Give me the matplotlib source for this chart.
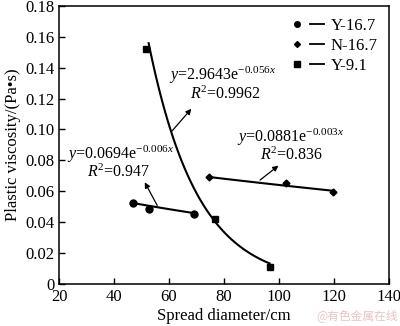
import numpy as np
import matplotlib.pyplot as plt
from matplotlib.lines import Line2D
from matplotlib.legend_handler import HandlerTuple

plt.rcParams['font.family'] = ['Liberation Serif', 'DejaVu Serif']
plt.rcParams['mathtext.fontset'] = 'custom'
plt.rcParams['mathtext.rm'] = 'Liberation Serif'
plt.rcParams['mathtext.it'] = 'Liberation Serif:italic'

# data
y167_x = [46.8, 52.7, 69.0]
y167_y = [0.0525, 0.0483, 0.0455]
n167_x = [74.6, 102.5, 119.5]
n167_y = [0.0690, 0.0656, 0.0592]
y91_x = [51.8, 76.6, 96.6]
y91_y = [0.152, 0.042, 0.011]

# fitted curves y = a*exp(b*x), coefficients from the chart labels
fit_y167 = (0.0694, -0.006)
fit_n167 = (0.0881, -0.003)
fit_y91 = (2.9643, -0.056)

xticks = [20, 40, 60, 80, 100, 120, 140]
yticks = [0, 0.02, 0.04, 0.06, 0.08, 0.10, 0.12, 0.14, 0.16, 0.18]
ytick_labels = ['0', '0.02', '0.04', '0.06', '0.08', '0.10', '0.12', '0.14', '0.16', '0.18']

fig = plt.figure(figsize=(4.0, 3.26), dpi=100)
ax = fig.add_axes([0.1475, 0.129, 0.825, 0.853])

def curve(a, b, x0, x1):
    xs = np.linspace(x0, x1, 100)
    return xs, a * np.exp(b * xs)

xs, ys = curve(*fit_y167, 46.8, 69.0)
ax.plot(xs, ys, color='black', lw=1.5)
xs, ys = curve(*fit_n167, 74.6, 119.5)
ax.plot(xs, ys - 0.0012, color='black', lw=1.5)
xs, ys = curve(*fit_y91, 52.6, 96.6)
ax.plot(xs, ys, color='black', lw=1.5)

ax.plot(y167_x, y167_y, 'o', color='black', ms=5)
ax.plot(n167_x, n167_y, 'D', color='black', ms=3.5)
ax.plot(y91_x, y91_y, 's', color='black', ms=5)

# equation labels
ax.text(79.5, 0.135, r'$y$=2.9643e$^{-0.056x}$', ha='center', va='center', fontsize=11.5)
ax.text(80.5, 0.1225, r'$R$$^{2}$=0.9962', ha='center', va='center', fontsize=11.5)
ax.text(104.3, 0.0952, r'$y$=0.0881e$^{-0.003x}$', ha='center', va='center', fontsize=11.5)
ax.text(104.6, 0.0835, r'$R$$^{2}$=0.836', ha='center', va='center', fontsize=11.5)
ax.text(42.4, 0.0842, r'$y$=0.0694e$^{-0.006x}$', ha='center', va='center', fontsize=11.5)
ax.text(41.5, 0.0725, r'$R$$^{2}$=0.947', ha='center', va='center', fontsize=11.5)

arrow = dict(arrowstyle='-|>', color='black', lw=0.9, mutation_scale=8)
ax.annotate('', xy=(68.8, 0.1147), xytext=(60.5, 0.0978), arrowprops=arrow)
ax.annotate('', xy=(100.6, 0.0777), xytext=(92.3, 0.0661), arrowprops=arrow)
ax.annotate('', xy=(50.7, 0.0674), xytext=(56.2, 0.0492), arrowprops=arrow)

ax.set_xlim(20, 140)
ax.set_ylim(0, 0.18)
ax.set_xticks(xticks)
ax.set_yticks(yticks)
ax.set_yticklabels(ytick_labels)
ax.tick_params(direction='in', labelsize=12, length=4, width=1)
for s in ax.spines.values():
    s.set_linewidth(1.1)

ax.set_xlabel('Spread diameter/cm', fontsize=12, labelpad=2)
ax.set_ylabel('Plastic viscosity/(Pa\u2022s)', fontsize=12, labelpad=3)

line_h = Line2D([], [], color='black', lw=1.3)
handles = [(Line2D([], [], ls='none', marker='o', color='black', ms=4), line_h),
           (Line2D([], [], ls='none', marker='D', color='black', ms=3), line_h),
           (Line2D([], [], ls='none', marker='s', color='black', ms=4), line_h)]
ax.legend(handles, ['Y-16.7', 'N-16.7', 'Y-9.1'],
          handler_map={tuple: HandlerTuple(ndivide=None, pad=0.3)},
          loc='upper right', frameon=False, fontsize=12, handlelength=2.0,
          handletextpad=0.4, labelspacing=0.25, borderaxespad=0.3)

fig.text(0.995, 0.012, '@有色金属在线', ha='right', va='bottom', fontsize=8.5,
         color='#eac4c4', family=['Noto Sans CJK SC', 'DejaVu Sans'])

fig.savefig('out.png', dpi=100)
